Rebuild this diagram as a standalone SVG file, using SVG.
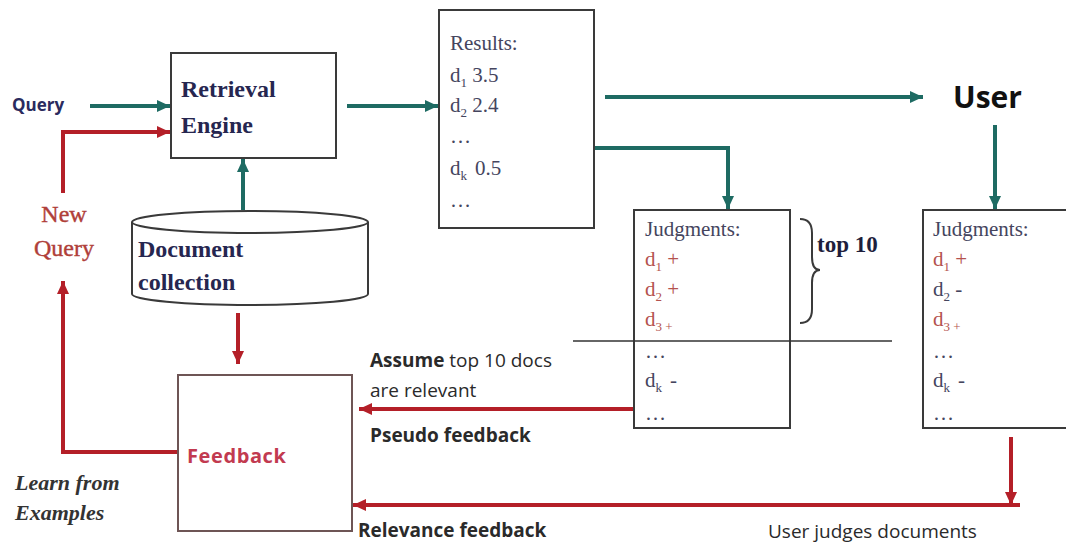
<svg xmlns="http://www.w3.org/2000/svg" width="1066" height="546" viewBox="0 0 1066 546">
<defs>
<marker id="ahT" markerUnits="userSpaceOnUse" markerWidth="14" markerHeight="14" refX="13" refY="7" orient="auto"><path d="M0,1 L13,7 L0,13 z" fill="#1e6b63"/></marker>
<marker id="ahR" markerUnits="userSpaceOnUse" markerWidth="14" markerHeight="14" refX="13" refY="7" orient="auto"><path d="M0,1 L13,7 L0,13 z" fill="#b41f28"/></marker>
<style>
.box{fill:#fff;stroke:#3a3a3a;stroke-width:2}
.teal{fill:none;stroke:#1e6b63;stroke-width:4;marker-end:url(#ahT)}
.red{fill:none;stroke:#b41f28;stroke-width:4;marker-end:url(#ahR)}
.bser{font-family:"Liberation Serif",serif;font-weight:bold;font-size:24px;fill:#262650}
.ser{font-family:"Liberation Serif",serif;font-size:21px;fill:#45455e}
.rd{fill:#b4524e}
.sans{font-family:"Open Sans","Liberation Sans",sans-serif}
.lbl{font-family:"Open Sans","Liberation Sans",sans-serif;font-size:19px;fill:#2a2a2a}
</style>
</defs>
<rect width="1066" height="546" fill="#fff"/>

<g id="connectors">
<path class="teal" d="M90,106 L170,106"/>
<path class="teal" d="M347,106 L438,106"/>
<path class="teal" d="M605,97 L923,97"/>
<path class="teal" d="M594,148 L728,148 L728,209"/>
<path class="teal" d="M995,125 L995,209"/>
<path class="teal" d="M243,210 L243,159"/>
<path class="red" d="M63,193 L63,132 L170,132"/>
<path class="red" d="M178,452 L63,452 L63,281"/>
<path class="red" d="M238,313 L238,364"/>
<path class="red" d="M634,409 L359,409"/>
<path class="red" d="M1011,437 L1011,505"/>
<path class="red" d="M1020,505 L353,505"/>
</g>

<g id="query-label"><text x="12" y="111" class="sans" font-size="17" font-weight="bold" fill="#2b2b5e">Query</text></g>

<g id="retrieval-engine">
<rect class="box" x="171" y="53" width="165" height="105"/>
<text class="bser" x="181" y="97">Retrieval</text>
<text class="bser" x="181" y="133">Engine</text>
</g>

<g id="new-query">
<text x="64" y="222" text-anchor="middle" font-family="Liberation Serif,serif" font-size="24" fill="#b03f3a" stroke="#b03f3a" stroke-width="0.4">New</text>
<text x="64" y="256" text-anchor="middle" font-family="Liberation Serif,serif" font-size="24" fill="#b03f3a" stroke="#b03f3a" stroke-width="0.4">Query</text>
</g>

<g id="document-collection">
<path d="M132,222 L132,294 A118,11 0 0 0 368,294 L368,222" fill="#fff" stroke="#3a3a3a" stroke-width="2"/>
<ellipse cx="250" cy="222" rx="118" ry="11" fill="#fff" stroke="#3a3a3a" stroke-width="2"/>
<text class="bser" x="138" y="257">Document</text>
<text class="bser" x="138" y="290">collection</text>
</g>

<g id="results">
<rect class="box" x="439" y="10" width="155" height="218"/>
<text class="ser" x="450" y="50">Results:</text>
<text class="ser" x="450" y="82">d<tspan font-size="13" dy="5">1</tspan><tspan dy="-5"> 3.5</tspan></text>
<text class="ser" x="450" y="112">d<tspan font-size="13" dy="5">2</tspan><tspan dy="-5"> 2.4</tspan></text>
<text class="ser" x="450" y="143">…</text>
<text class="ser" x="450" y="175">d<tspan font-size="13" dy="5">k</tspan><tspan dy="-5" x="475">0.5</tspan></text>
<text class="ser" x="450" y="207">…</text>
</g>

<g id="user"><text x="953" y="108" class="sans" font-size="30" font-weight="bold" fill="#111">User</text></g>

<g id="judgments-pseudo">
<rect class="box" x="634" y="210" width="156" height="218"/>
<text class="ser" x="645" y="236">Judgments:</text>
<text class="ser rd" x="645" y="266">d<tspan font-size="13" dy="5">1</tspan><tspan dy="-5"> +</tspan></text>
<text class="ser rd" x="645" y="296">d<tspan font-size="13" dy="5">2</tspan><tspan dy="-5"> +</tspan></text>
<text class="ser rd" x="645" y="326">d<tspan font-size="13" dy="5">3 +</tspan></text>
<text class="ser" x="645" y="358">…</text>
<text class="ser" x="645" y="387">d<tspan font-size="13" dy="5">k</tspan><tspan dy="-5" x="670">-</tspan></text>
<text class="ser" x="645" y="420">…</text>
</g>

<g id="top10">
<line x1="573" y1="341" x2="892" y2="341" stroke="#333" stroke-width="1.5"/>
<path d="M800,219 Q812,219 812,233 L812,257 Q812,270 820,270 Q812,270 812,283 L812,309 Q812,323 800,323" fill="none" stroke="#3a3a3a" stroke-width="2"/>
<text x="817" y="252" font-family="Liberation Serif,serif" font-weight="bold" font-size="23" fill="#1e1e3c">top 10</text>
</g>

<g id="judgments-user">
<rect class="box" x="923" y="210" width="160" height="218"/>
<text class="ser" x="933" y="236">Judgments:</text>
<text class="ser rd" x="933" y="266">d<tspan font-size="13" dy="5">1</tspan><tspan dy="-5"> +</tspan></text>
<text class="ser" x="933" y="296">d<tspan font-size="13" dy="5">2</tspan><tspan dy="-5"> -</tspan></text>
<text class="ser rd" x="933" y="326">d<tspan font-size="13" dy="5">3 +</tspan></text>
<text class="ser" x="933" y="358">…</text>
<text class="ser" x="933" y="387">d<tspan font-size="13" dy="5">k</tspan><tspan dy="-5" x="958">-</tspan></text>
<text class="ser" x="933" y="420">…</text>
</g>

<g id="feedback">
<rect x="178" y="375" width="174" height="156" fill="#fff" stroke="#6e5555" stroke-width="2"/>
<text x="187" y="463" class="sans" font-size="20" font-weight="bold" letter-spacing="0.6" fill="#c23a50">Feedback</text>
</g>

<g id="labels">
<text x="15" y="490" font-family="Liberation Serif,serif" font-style="italic" font-weight="bold" font-size="22" fill="#333">Learn from</text>
<text x="15" y="520" font-family="Liberation Serif,serif" font-style="italic" font-weight="bold" font-size="22" fill="#333">Examples</text>
<text class="lbl" x="370" y="367"><tspan font-weight="bold">Assume</tspan> top 10 docs</text>
<text class="lbl" x="370" y="397">are relevant</text>
<text class="lbl" x="370" y="442" font-weight="bold">Pseudo feedback</text>
<text class="lbl" x="358" y="537" font-weight="bold">Relevance feedback</text>
<text class="lbl" x="768" y="538" font-size="18" fill="#444">User judges documents</text>
</g>
</svg>
